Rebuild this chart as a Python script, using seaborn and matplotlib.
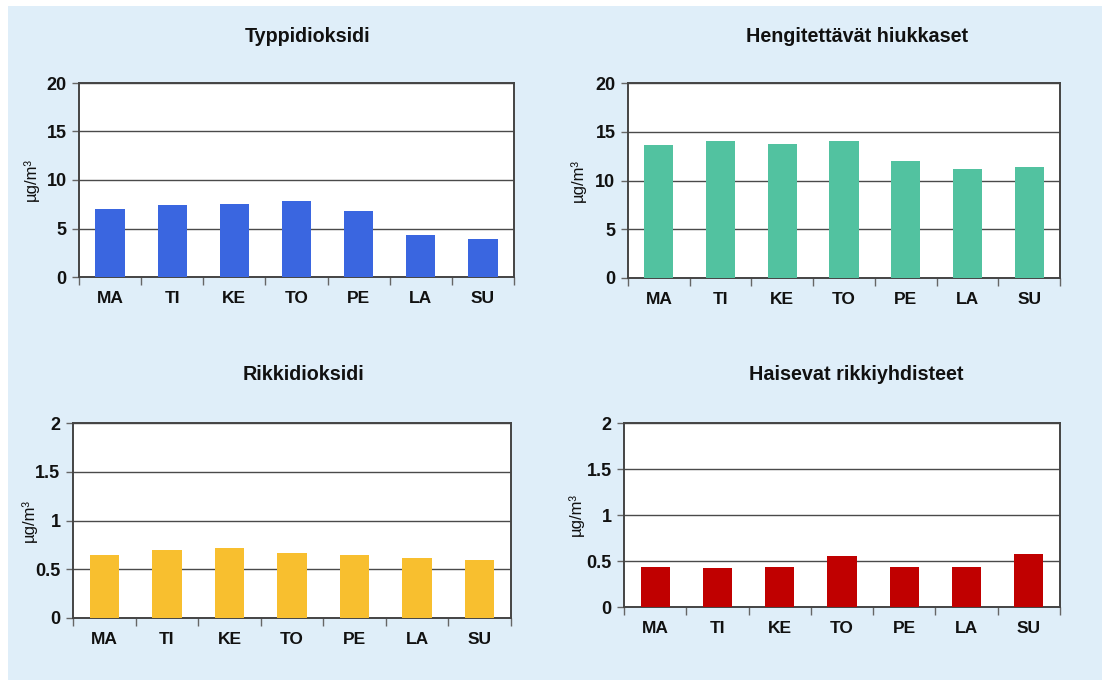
import matplotlib
matplotlib.use("Agg")
import matplotlib.pyplot as plt
from matplotlib.patches import Rectangle
from matplotlib.ticker import FuncFormatter, FixedLocator
import seaborn as sns
import pandas as pd

# Weekday labels
days = ["MA", "TI", "KE", "TO", "PE", "LA", "SU"]

# Daily means, µg/m³
no2 = [7.0, 7.4, 7.5, 7.8, 6.8, 4.3, 3.9]
pm10 = [13.6, 14.1, 13.7, 14.1, 12.0, 11.2, 11.4]
so2 = [0.65, 0.70, 0.72, 0.67, 0.65, 0.62, 0.60]
trs = [0.44, 0.42, 0.43, 0.55, 0.44, 0.43, 0.58]

titles = ["Typpidioksidi", "Hengitettävät hiukkaset", "Rikkidioksidi", "Haisevat rikkiyhdisteet"]
series = [no2, pm10, so2, trs]
ylims = [20, 20, 2, 2]
yticks = [[0, 5, 10, 15, 20], [0, 5, 10, 15, 20], [0, 0.5, 1, 1.5, 2], [0, 0.5, 1, 1.5, 2]]
colors = ["#3A66E0", "#52C2A0", "#F8BF2F", "#C00000"]
unit = "µg/m³"

sns.set_theme(style="white")
plt.rcParams["font.family"] = ["Liberation Sans", "DejaVu Sans"]

W, H = 1102, 680
fig = plt.figure(figsize=(W / 100, H / 100), dpi=100, facecolor="white")
fig.patches.append(Rectangle((8 / W, 0), 1 - 8 / W, 1 - 6 / H, transform=fig.transFigure,
                             facecolor="#DFEEF9", edgecolor="none", zorder=-10))

# axes boxes in pixels: left, right, top, bottom
boxes = [(79, 514, 83, 277), (628, 1060, 83, 278), (73, 511, 423, 618), (624, 1060, 423, 607)]
title_pos = [(308, 37), (857, 37), (303, 374), (856, 374)]
ylabel_x = [31, 578, 29, 576]

for i in range(4):
    l, r, t, b = boxes[i]
    ax = fig.add_axes([l / W, 1 - b / H, (r - l) / W, (b - t) / H])
    df = pd.DataFrame({"day": days, "value": series[i]})
    sns.barplot(data=df, x="day", y="value", color=colors[i], width=0.47,
                saturation=1, linewidth=0, ax=ax, zorder=3)
    ax.set_facecolor("white")
    ax.set_xlim(-0.5, 6.5)
    ax.set_ylim(0, ylims[i])
    ax.set_yticks(yticks[i])
    ax.yaxis.set_major_formatter(FuncFormatter(lambda v, p: f"{v:g}"))
    ax.grid(axis="y", color="#4a4a4a", linewidth=1.0, zorder=1)
    ax.grid(axis="x", visible=False)
    for s in ax.spines.values():
        s.set_color("#444444")
        s.set_linewidth(1.4)
        s.set_visible(True)
    ax.tick_params(axis="y", which="major", length=5, width=1, color="#666666",
                   direction="out", left=True, labelsize=13, pad=4)
    ax.tick_params(axis="x", which="major", length=0, labelsize=12.5, pad=10)
    ax.xaxis.set_minor_locator(FixedLocator([k - 0.5 for k in range(8)]))
    ax.tick_params(axis="x", which="minor", length=6, width=1, color="#666666",
                   direction="out", bottom=True)
    for lab in ax.get_xticklabels() + ax.get_yticklabels():
        lab.set_fontweight("bold")
        lab.set_color("#111111")
    ax.set_xlabel("")
    ax.set_ylabel("")
    fig.text(ylabel_x[i] / W, 1 - ((t + b) / 2) / H, unit, rotation=90, ha="center",
             va="center", fontsize=12, color="#111111")
    tx, ty = title_pos[i]
    fig.text(tx / W, 1 - ty / H, titles[i], ha="center", va="center", fontsize=14.2,
             fontweight="bold", color="#111111")

fig.savefig("out.png", dpi=100, facecolor="white")
